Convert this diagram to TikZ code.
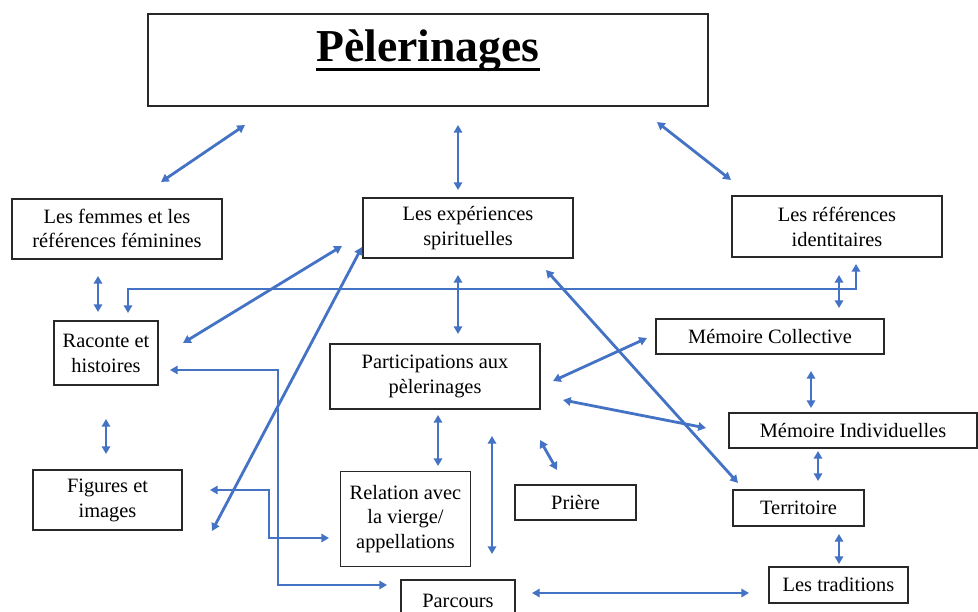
\documentclass[tikz,border=0pt]{standalone}
\usepackage{fontspec}
\setmainfont{Liberation Serif}
\usetikzlibrary{arrows.meta}
\definecolor{arr}{RGB}{68,114,196}
\definecolor{boxline}{RGB}{40,40,40}
\begin{document}
\begin{tikzpicture}[x=0.025cm,y=-0.025cm,
  box/.style={draw=boxline, line width=0.75pt, rectangle, inner sep=0pt, align=center,
    font=\fontsize{14.5}{17.7}\selectfont},
  sz/.style 2 args={minimum width=#1*0.025cm, minimum height=#2*0.025cm},
  link/.style={draw=arr, line width=2pt, line join=miter,
    {Triangle[length=5.5pt,width=6pt]}-{Triangle[length=5.5pt,width=6pt]}},
  ]
\clip (0,0) rectangle (978,611);
\fill[white] (0,0) rectangle (978,611);

% boxes
\node[box, sz={560}{92}] (title) at (428,60) {};
\node[font=\bfseries\fontsize{32.5}{36}\selectfont, inner sep=0pt, anchor=base] (titletext) at (428,62) {Pèlerinages};
\draw[line width=2.1pt] ([yshift=-5.2pt]titletext.base west) -- ([yshift=-5.2pt]titletext.base east);

\node[box, sz={210}{60}, text depth=1pt] (femmes) at (117,229) {Les femmes et les\\références féminines};
\node[box, sz={210}{60}] (exper) at (468,228) {Les expériences\\spirituelles};
\node[box, sz={210}{61}] (refid) at (837,226.5) {Les références\\identitaires};
\node[box, sz={104}{64}] (raconte) at (106,353) {Raconte et\\histoires};
\node[box, sz={210}{65}] (partic) at (435,376.5) {Participations aux\\pèlerinages};
\node[box, sz={228}{35}] (memcol) at (770,336.5) {Mémoire Collective};
\node[box, sz={248}{35}] (memind) at (853,430.5) {Mémoire Individuelles};
\node[box, sz={149}{60}] (figures) at (107.5,500) {Figures et\\images};
\node[box, sz={130}{95}] (relation) at (405.5,519) {Relation avec\\la vierge/\\appellations};
\node[box, sz={121}{35}] (priere) at (575.5,502.5) {Prière};
\node[box, sz={131}{36}] (territoire) at (798.5,508) {Territoire};
\node[box, sz={139}{36}] (traditions) at (838.5,585) {Les traditions};
\node[box, sz={114}{42}] (parcours) at (458,601) {Parcours};

% connector end points
\coordinate (c1a) at (161,182); \coordinate (c1b) at (245,125);
\coordinate (c2a) at (458,125); \coordinate (c2b) at (458,190);
\coordinate (c3a) at (657,122); \coordinate (c3b) at (731,180);
\coordinate (c4a) at (98,276);  \coordinate (c4b) at (98,312);
\coordinate (c5a) at (106,419); \coordinate (c5b) at (106,454);
\coordinate (c6a) at (458,275); \coordinate (c6b) at (458,334);
\coordinate (c7a) at (183,343); \coordinate (c7b) at (342,246);
\coordinate (c8a) at (212,531); \coordinate (c8b) at (362,247);
\coordinate (c9a) at (128,313); \coordinate (c9m) at (128,289); \coordinate (c9n) at (856,289); \coordinate (c9b) at (856,264);
\coordinate (c10a) at (839,275); \coordinate (c10b) at (839,308);
\coordinate (c11a) at (811,371); \coordinate (c11b) at (811,408);
\coordinate (c12a) at (818,451); \coordinate (c12b) at (818,481);
\coordinate (c13a) at (839,534); \coordinate (c13b) at (839,564);
\coordinate (c14a) at (553,381); \coordinate (c14b) at (647,338);
\coordinate (c15a) at (563,400); \coordinate (c15b) at (706,428);
\coordinate (c16a) at (546,270); \coordinate (c16b) at (738,483);
\coordinate (c17a) at (438,415); \coordinate (c17b) at (438,466);
\coordinate (c18a) at (492,436); \coordinate (c18b) at (492,554);
\coordinate (c19a) at (540,440); \coordinate (c19b) at (557,470);
\coordinate (c20a) at (532,593); \coordinate (c20b) at (749,593);
\coordinate (c21a) at (170,370); \coordinate (c21m) at (278,370); \coordinate (c21n) at (278,585); \coordinate (c21b) at (387,585);
\coordinate (c22a) at (210,490); \coordinate (c22m) at (269,490); \coordinate (c22n) at (269,538); \coordinate (c22b) at (329,538);

% connectors
\draw[link] (c1a) -- (c1b);
\draw[link] (c2a) -- (c2b);
\draw[link] (c3a) -- (c3b);
\draw[link] (c4a) -- (c4b);
\draw[link] (c5a) -- (c5b);
\draw[link] (c6a) -- (c6b);
\draw[link] (c7a) -- (c7b);
\draw[link] (c8a) -- (c8b);
\draw[link] (c9a) -- (c9m) -- (c9n) -- (c9b);
\draw[link] (c10a) -- (c10b);
\draw[link] (c11a) -- (c11b);
\draw[link] (c12a) -- (c12b);
\draw[link] (c13a) -- (c13b);
\draw[link] (c14a) -- (c14b);
\draw[link] (c15a) -- (c15b);
\draw[link] (c16a) -- (c16b);
\draw[link] (c17a) -- (c17b);
\draw[link] (c18a) -- (c18b);
\draw[link] (c19a) -- (c19b);
\draw[link] (c20a) -- (c20b);
\draw[link] (c21a) -- (c21m) -- (c21n) -- (c21b);
\draw[link] (c22a) -- (c22m) -- (c22n) -- (c22b);
\end{tikzpicture}
\end{document}
